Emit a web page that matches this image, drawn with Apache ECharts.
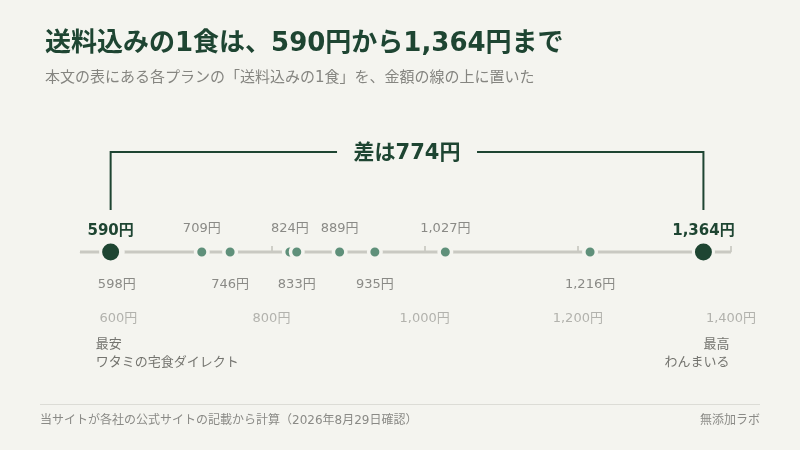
<!DOCTYPE html>
<html>
<head>
<meta charset="utf-8">
<script src="https://cdn.jsdelivr.net/npm/echarts@6/dist/echarts.min.js"></script>
<style>
html,body{margin:0;padding:0;background:#f4f4ef;}
#c{width:800px;height:450px;}
</style>
</head>
<body>
<div id="c"></div>
<script>
// ---- data ----
const prices = [590, 598, 709, 746, 824, 833, 889, 935, 1027, 1216, 1364];
const tickValues = [600, 800, 1000, 1200, 1400];
const axisMin = 550;
const axisMax = 1400;
const cheapestName = 'ワタミの宅食ダイレクト';
const priciestName = 'わんまいる';
const titleText = '送料込みの1食は、590円から1,364円まで';
const subtitleText = '本文の表にある各プランの「送料込みの1食」を、金額の線の上に置いた';
const sourceText = '当サイトが各社の公式サイトの記載から計算（2026年8月29日確認）';
const brandText = '無添加ラボ';

const FONT = '"DejaVu Sans", "Noto Sans CJK JP", sans-serif';
const DARK = '#1e4532';
const MID = '#5f907a';
const BG = '#f4f4ef';
const fmt = v => v.toLocaleString('en-US') + '円';

const minP = Math.min(...prices), maxP = Math.max(...prices);

const smallData = [], bigData = [];
prices.forEach((p, i) => {
  const above = i % 2 === 0;
  const isExt = (p === minP || p === maxP);
  const item = {
    value: [p, 0],
    label: isExt ? {
      show: true, position: 'inside', offset: [0, -21],
      formatter: fmt(p), fontSize: 15, fontWeight: 'bold', color: DARK, fontFamily: FONT
    } : {
      show: true, position: 'inside', offset: [0, above ? -23 : 33],
      formatter: fmt(p), fontSize: 13, color: '#8a8a86', fontFamily: FONT
    }
  };
  (isExt ? bigData : smallData).push(item);
});

const chart = echarts.init(document.getElementById('c'), null, {renderer: 'canvas'});
chart.setOption({
  backgroundColor: BG,
  animation: false,
  textStyle: {fontFamily: FONT},
  title: [
    {text: titleText, left: 40, top: 26, textStyle: {fontSize: 26, fontWeight: 'bold', color: DARK, fontFamily: FONT}},
    {text: subtitleText, left: 40, top: 66, textStyle: {fontSize: 15, fontWeight: 'normal', color: '#858580', fontFamily: FONT}}
  ],
  grid: {left: 80, right: 69, top: 236, bottom: 182},
  xAxis: {
    type: 'value', min: axisMin, max: axisMax,
    axisLine: {show: true, lineStyle: {color: '#e2e2dc', width: 1}},
    axisTick: {show: true, inside: true, length: 6, lineStyle: {color: '#cfcfc8', width: 2}, customValues: tickValues},
    axisLabel: {show: true, margin: 44, fontSize: 13, color: '#b2b2ad', fontFamily: FONT, formatter: v => fmt(v), customValues: tickValues},
    splitLine: {show: false}
  },
  yAxis: {type: 'value', min: -1, max: 1, show: false},
  graphic: [
    {type: 'line', shape: {x1: 40, y1: 404.5, x2: 760, y2: 404.5}, style: {stroke: '#dcdcd6', lineWidth: 1}},
    {type: 'text', left: 40, top: 415, style: {text: sourceText, fontSize: 12, fill: '#8a8a86', fontFamily: FONT}},
    {type: 'text', right: 40, top: 415, style: {text: brandText, fontSize: 12, fill: '#8a8a86', fontFamily: FONT}}
  ],
  series: [
    {
      type: 'line', data: [[axisMin, 0], [axisMax, 0]], symbol: 'none', silent: true,
      lineStyle: {color: '#c9c9c2', width: 3}, z: 1
    },
    {
      type: 'scatter', data: smallData, symbolSize: 12.5,
      itemStyle: {color: MID, borderColor: BG, borderWidth: 3.5, opacity: 1}, z: 3
    },
    {
      type: 'scatter', data: bigData, symbolSize: 20,
      itemStyle: {color: DARK, borderColor: BG, borderWidth: 3, opacity: 1}, z: 4
    },
    {
      type: 'custom', data: [[minP, maxP]], z: 5, silent: true,
      renderItem: (params, api) => {
        const p1 = api.coord([api.value(0), 0]);
        const p2 = api.coord([api.value(1), 0]);
        const yTop = p1[1] - 100, yBot = p1[1] - 42;
        const cx = (p1[0] + p2[0]) / 2;
        const gap = 70;
        const diff = api.value(1) - api.value(0);
        const ls = {stroke: DARK, lineWidth: 2, fill: null, lineJoin: 'miter', lineCap: 'butt'};
        return {
          type: 'group', children: [
            {type: 'polyline', shape: {points: [[p1[0], yBot], [p1[0], yTop], [cx - gap, yTop]]}, style: ls},
            {type: 'polyline', shape: {points: [[cx + gap, yTop], [p2[0], yTop], [p2[0], yBot]]}, style: ls},
            {type: 'text', x: cx, y: yTop + 2, style: {text: '差は' + diff + '円', fontSize: 21, fontWeight: 'bold', fill: DARK, align: 'center', verticalAlign: 'middle', fontFamily: FONT}},
            {type: 'text', x: p1[0] - 15, y: p1[1] + 84, style: {text: '最安\n' + cheapestName, fontSize: 13, lineHeight: 18, fill: '#74746f', align: 'left', verticalAlign: 'top', fontFamily: FONT}},
            {type: 'text', x: p2[0] + 26, y: p1[1] + 84, style: {text: '最高\n' + priciestName, fontSize: 13, lineHeight: 18, fill: '#74746f', align: 'right', verticalAlign: 'top', fontFamily: FONT}}
          ]
        };
      }
    }
  ]
});
</script>
</body>
</html>
